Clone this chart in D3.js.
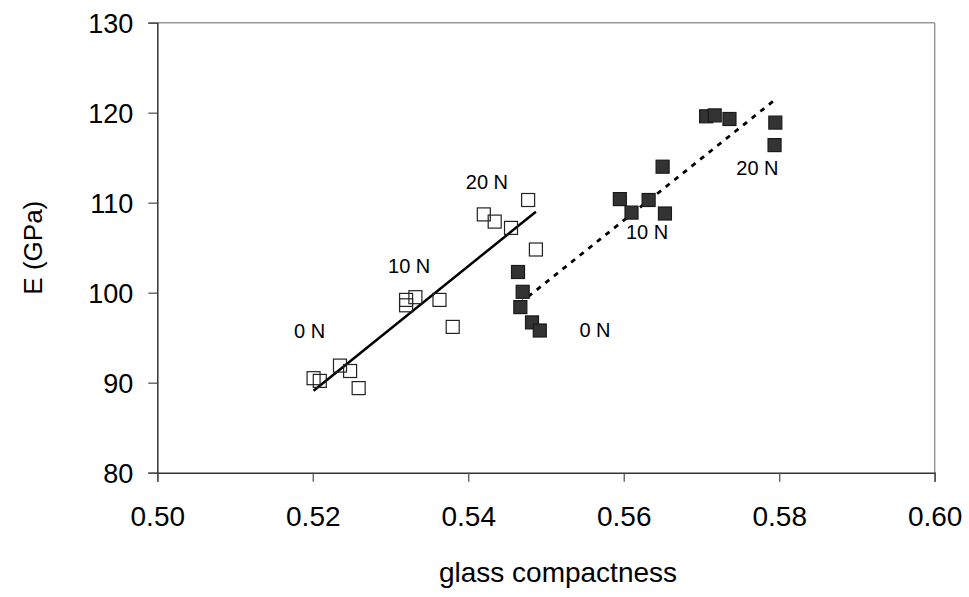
<!DOCTYPE html>
<html>
<head>
<meta charset="utf-8">
<script src="https://cdn.jsdelivr.net/npm/d3@7"></script>
<style>
  html, body { margin: 0; padding: 0; background: #fff; }
  svg text { font-family: "Liberation Sans", Arial, sans-serif; fill: #000; }
</style>
</head>
<body>
<svg id="chart" width="969" height="597"></svg>
<script>
// Glass compactness vs. Young's modulus, two sample sets loaded at 0/10/20 N
const openCompactness = [0.5201, 0.5209, 0.5235, 0.5248, 0.5259, 0.5320, 0.5320, 0.5332, 0.5363, 0.5380, 0.5420, 0.5434, 0.5455, 0.5477, 0.5487];
const openModulus     = [90.5, 90.2, 91.9, 91.3, 89.4, 99.2, 98.6, 99.5, 99.2, 96.2, 108.7, 107.9, 107.2, 110.3, 104.8];

const filledCompactness = [0.5464, 0.5470, 0.5467, 0.5482, 0.5492, 0.5595, 0.5610, 0.5632, 0.5653, 0.5650, 0.5706, 0.5717, 0.5736, 0.5795, 0.5794];
const filledModulus     = [102.3, 100.1, 98.4, 96.7, 95.8, 110.4, 108.9, 110.3, 108.8, 114.0, 119.6, 119.7, 119.3, 118.9, 116.4];

// Trend line end points
const openTrendX = [0.5201, 0.5487];
const openTrendY = [89.1, 109.0];
const filledTrendX = [0.5466, 0.5794];
const filledTrendY = [98.8, 121.4];

// Load annotations
const loadText = ["0 N", "10 N", "20 N", "0 N", "10 N", "20 N"];
const loadX = [0.5196, 0.5324, 0.5424, 0.5563, 0.5630, 0.5772];
const loadY = [95.8, 103.0, 112.3, 95.9, 106.8, 113.9];

const xTicks = [0.50, 0.52, 0.54, 0.56, 0.58, 0.60];
const yTicks = [80, 90, 100, 110, 120, 130];

const svg = d3.select("#chart");
const plotLeft = 157.3, plotRight = 934.7, plotTop = 22.7, plotBottom = 472.7;

const x = d3.scaleLinear().domain([0.50, 0.60]).range([plotLeft, plotRight]);
const y = d3.scaleLinear().domain([80, 130]).range([plotBottom, plotTop]);

// Plot frame: top and right in grey
svg.append("line").attr("x1", plotLeft).attr("x2", plotRight).attr("y1", plotTop).attr("y2", plotTop)
  .attr("stroke", "#999").attr("stroke-width", 1.5);
svg.append("line").attr("x1", plotRight).attr("x2", plotRight).attr("y1", plotTop).attr("y2", plotBottom)
  .attr("stroke", "#999").attr("stroke-width", 1.5);

// Axes
const xAxis = svg.append("g").attr("transform", `translate(0,${plotBottom})`)
  .call(d3.axisBottom(x).tickValues(xTicks).tickFormat(d3.format(".2f")).tickSize(9).tickPadding(24));
const yAxis = svg.append("g").attr("transform", `translate(${plotLeft},0)`)
  .call(d3.axisLeft(y).tickValues(yTicks).tickFormat(d3.format("d")).tickSize(9).tickPadding(15));

[xAxis, yAxis].forEach(g => {
  g.select(".domain").attr("stroke", "#333").attr("stroke-width", 1.5);
  g.selectAll(".tick line").attr("stroke", "#555").attr("stroke-width", 1.3);
  g.selectAll(".tick text").attr("font-family", "Liberation Sans, Arial, sans-serif").attr("fill", "#000");
});
xAxis.selectAll(".tick text").attr("font-size", 28).attr("dy", "0.71em");
yAxis.selectAll(".tick text").attr("font-size", 27).attr("dy", "0.36em");

// Axis titles
svg.append("text").attr("x", 558).attr("y", 582)
  .attr("text-anchor", "middle").attr("font-size", 28).text("glass compactness");
svg.append("text").attr("transform", `translate(42,${(plotTop + plotBottom) / 2}) rotate(-90)`)
  .attr("text-anchor", "middle").attr("font-size", 26).text("E (GPa)");

// Trend lines
const trend = d3.line().x(d => x(d[0])).y(d => y(d[1]));
svg.append("path").datum(d3.zip(openTrendX, openTrendY)).attr("d", trend)
  .attr("stroke", "#000").attr("stroke-width", 2.5).attr("fill", "none");
svg.append("path").datum(d3.zip(filledTrendX, filledTrendY)).attr("d", trend)
  .attr("stroke", "#000").attr("stroke-width", 2.8).attr("fill", "none")
  .attr("stroke-dasharray", "5,6");

// Markers
const s = 13;
svg.append("g").selectAll("rect").data(d3.zip(openCompactness, openModulus)).join("rect")
  .attr("x", d => x(d[0]) - s / 2).attr("y", d => y(d[1]) - s / 2)
  .attr("width", s).attr("height", s)
  .attr("fill", "#fff").attr("fill-opacity", 0).attr("stroke", "#222").attr("stroke-width", 1.2);
svg.append("g").selectAll("rect").data(d3.zip(filledCompactness, filledModulus)).join("rect")
  .attr("x", d => x(d[0]) - s / 2).attr("y", d => y(d[1]) - s / 2)
  .attr("width", s).attr("height", s)
  .attr("fill", "#333").attr("stroke", "#1a1a1a").attr("stroke-width", 1.2);

// Load labels
svg.append("g").selectAll("text").data(d3.zip(loadText, loadX, loadY)).join("text")
  .attr("x", d => x(d[1])).attr("y", d => y(d[2]))
  .attr("dy", "0.36em").attr("text-anchor", "middle").attr("font-size", 20)
  .text(d => d[0]);
</script>
</body>
</html>
